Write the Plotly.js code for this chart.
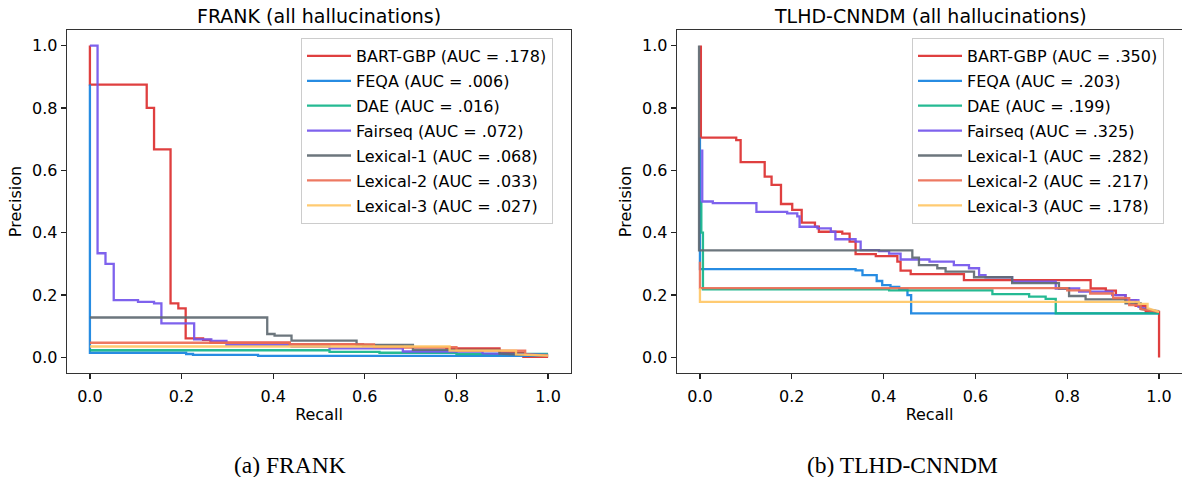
<!DOCTYPE html>
<html>
<head>
<meta charset="utf-8">
<script src="https://cdn.plot.ly/plotly-3.0.1.min.js"></script>
<style>html,body{margin:0;padding:0;background:#fff;}#chart{width:1182px;height:477px;}</style>
</head>
<body>
<div id="chart"></div>
<script>
// ---------- series names and legend AUCs ----------
const SERIES = ["BART-GBP", "FEQA", "DAE", "Fairseq", "Lexical-1", "Lexical-2", "Lexical-3"];
const FRANK_AUC = [".178", ".006", ".016", ".072", ".068", ".033", ".027"];
const TLHD_AUC = [".350", ".203", ".199", ".325", ".282", ".217", ".178"];
const TICKS = [0, 0.2, 0.4, 0.6, 0.8, 1.0];
const TICK_TEXT = ["0.0", "0.2", "0.4", "0.6", "0.8", "1.0"];

// ---------- FRANK (all hallucinations) : recall / precision ----------
const frankBartRecall = [0, 0, 0.124, 0.124, 0.140, 0.140, 0.176, 0.176, 0.193, 0.193, 0.209, 0.209, 0.247, 0.247, 0.263, 0.263, 0.436, 0.436, 0.596, 0.596, 0.683, 0.683, 0.778, 0.778, 0.894, 0.894, 0.946, 0.946, 1.0];
const frankBartPrecision = [1.0, 0.875, 0.875, 0.80, 0.80, 0.667, 0.667, 0.173, 0.173, 0.157, 0.157, 0.061, 0.061, 0.056, 0.056, 0.047, 0.047, 0.042, 0.042, 0.037, 0.037, 0.032, 0.032, 0.029, 0.029, 0.015, 0.015, 0.002, 0.002];

const frankFeqaRecall = [0, 0, 0.21, 0.21, 0.225, 0.225, 0.367, 0.367, 1.0];
const frankFeqaPrecision = [0.875, 0.015, 0.015, 0.011, 0.011, 0.008, 0.008, 0.005, 0.005];

const frankDaeRecall = [0, 0.523, 0.523, 0.632, 0.632, 0.80, 0.80, 1.0];
const frankDaePrecision = [0.023, 0.023, 0.018, 0.018, 0.015, 0.015, 0.011, 0.011];

const frankFairseqRecall = [0, 0.0167, 0.0167, 0.034, 0.034, 0.052, 0.052, 0.105, 0.105, 0.14, 0.14, 0.156, 0.156, 0.2275, 0.2275, 0.265, 0.265, 0.298, 0.298, 0.44, 0.44, 0.523, 0.523, 0.683, 0.683, 0.857, 0.857, 1.0];
const frankFairseqPrecision = [1.0, 1.0, 0.334, 0.334, 0.30, 0.30, 0.184, 0.184, 0.178, 0.178, 0.173, 0.173, 0.109, 0.109, 0.058, 0.058, 0.053, 0.053, 0.040, 0.040, 0.035, 0.035, 0.029, 0.029, 0.019, 0.019, 0.013, 0.008];

const frankLex1Recall = [0, 0.387, 0.387, 0.403, 0.403, 0.44, 0.44, 0.582, 0.582, 0.705, 0.705, 0.894, 0.894, 1.0];
const frankLex1Precision = [0.128, 0.128, 0.075, 0.075, 0.070, 0.070, 0.054, 0.054, 0.040, 0.040, 0.024, 0.024, 0.012, 0.005];

const frankLex2Recall = [0, 0.436, 0.436, 0.62, 0.62, 0.80, 0.80, 0.95, 0.95, 1.0];
const frankLex2Precision = [0.047, 0.047, 0.042, 0.042, 0.033, 0.033, 0.022, 0.022, 0.010, 0.006];

const frankLex3Recall = [0, 0.785, 0.785, 0.93, 0.93, 1.0];
const frankLex3Precision = [0.035, 0.035, 0.022, 0.022, 0.010, 0.006];

// ---------- TLHD-CNNDM (all hallucinations) : recall / precision ----------
const tlhdBartRecall = [0.002, 0.002, 0.079, 0.079, 0.0886, 0.0886, 0.141, 0.141, 0.156, 0.156, 0.1765, 0.1765, 0.201, 0.201, 0.2216, 0.2216, 0.2505, 0.2505, 0.259, 0.259, 0.31, 0.31, 0.326, 0.326, 0.339, 0.339, 0.383, 0.383, 0.43, 0.43, 0.437, 0.437, 0.459, 0.459, 0.575, 0.575, 0.851, 0.851, 0.884, 0.884, 0.906, 0.906, 0.927, 0.927, 0.949, 0.949, 0.971, 0.971, 1.0, 1.0];
const tlhdBartPrecision = [1.0, 0.705, 0.705, 0.697, 0.697, 0.626, 0.626, 0.58, 0.58, 0.553, 0.553, 0.492, 0.492, 0.473, 0.473, 0.432, 0.432, 0.419, 0.419, 0.403, 0.403, 0.397, 0.397, 0.371, 0.371, 0.331, 0.331, 0.325, 0.325, 0.307, 0.307, 0.278, 0.278, 0.267, 0.267, 0.248, 0.248, 0.221, 0.221, 0.214, 0.214, 0.200, 0.200, 0.184, 0.184, 0.165, 0.165, 0.146, 0.146, 0.0];

const tlhdFeqaRecall = [0, 0, 0.339, 0.339, 0.354, 0.354, 0.385, 0.385, 0.397, 0.397, 0.415, 0.415, 0.434, 0.434, 0.452, 0.452, 0.460, 0.460, 1.0];
const tlhdFeqaPrecision = [0.705, 0.283, 0.283, 0.279, 0.279, 0.264, 0.264, 0.245, 0.245, 0.232, 0.232, 0.226, 0.226, 0.218, 0.218, 0.200, 0.200, 0.141, 0.141];

const tlhdDaeRecall = [0.003, 0.003, 0.0065, 0.0065, 0.412, 0.412, 0.637, 0.637, 0.717, 0.717, 0.753, 0.753, 0.775, 0.775, 1.0];
const tlhdDaePrecision = [0.50, 0.40, 0.40, 0.218, 0.218, 0.215, 0.215, 0.203, 0.203, 0.195, 0.195, 0.188, 0.188, 0.141, 0.141];

const tlhdFairseqRecall = [0.005, 0.005, 0.028, 0.028, 0.123, 0.123, 0.19, 0.19, 0.212, 0.212, 0.217, 0.217, 0.256, 0.256, 0.285, 0.285, 0.295, 0.295, 0.339, 0.339, 0.35, 0.35, 0.39, 0.39, 0.412, 0.412, 0.437, 0.437, 0.50, 0.50, 0.553, 0.553, 0.586, 0.586, 0.608, 0.608, 0.622, 0.622, 0.68, 0.68, 0.775, 0.775, 0.826, 0.826, 0.898, 0.898, 0.927, 0.927, 0.955, 0.955, 1.0];
const tlhdFairseqPrecision = [0.667, 0.50, 0.50, 0.495, 0.495, 0.467, 0.467, 0.462, 0.462, 0.452, 0.452, 0.419, 0.419, 0.414, 0.414, 0.403, 0.403, 0.379, 0.379, 0.371, 0.371, 0.344, 0.344, 0.341, 0.341, 0.333, 0.333, 0.314, 0.314, 0.307, 0.307, 0.296, 0.296, 0.286, 0.286, 0.264, 0.264, 0.257, 0.257, 0.243, 0.243, 0.221, 0.221, 0.211, 0.211, 0.200, 0.200, 0.184, 0.184, 0.162, 0.146];

const tlhdLex1Recall = [-0.002, -0.002, 0.4626, 0.4626, 0.477, 0.477, 0.517, 0.517, 0.535, 0.535, 0.597, 0.597, 0.68, 0.68, 0.782, 0.782, 0.804, 0.804, 0.84, 0.84, 0.927, 0.927, 0.96, 0.96, 1.0];
const tlhdLex1Precision = [1.0, 0.343, 0.343, 0.320, 0.320, 0.296, 0.296, 0.286, 0.286, 0.275, 0.275, 0.257, 0.257, 0.238, 0.238, 0.221, 0.221, 0.197, 0.197, 0.186, 0.186, 0.173, 0.173, 0.155, 0.148];

const tlhdLex2Recall = [0, 0, 0.80, 0.80, 0.85, 0.85, 0.90, 0.90, 0.935, 0.935, 0.96, 0.96, 1.0];
const tlhdLex2Precision = [0.307, 0.222, 0.222, 0.215, 0.215, 0.205, 0.205, 0.19, 0.19, 0.168, 0.168, 0.155, 0.146];

const tlhdLex3Recall = [0, 0, 0.956, 0.956, 0.975, 0.975, 1.0];
const tlhdLex3Precision = [0.222, 0.178, 0.178, 0.172, 0.172, 0.158, 0.146];

// ---------- styling ----------
const COLORS = ["#dc2f2f", "#1582e0", "#12b48a", "#7355ec", "#5f6a72", "#ec6e55", "#ffc766"];
const FONT = "DejaVu Sans, Liberation Sans, sans-serif";

const frankData = [
  [frankBartRecall, frankBartPrecision], [frankFeqaRecall, frankFeqaPrecision],
  [frankDaeRecall, frankDaePrecision], [frankFairseqRecall, frankFairseqPrecision],
  [frankLex1Recall, frankLex1Precision], [frankLex2Recall, frankLex2Precision],
  [frankLex3Recall, frankLex3Precision]
];
const tlhdData = [
  [tlhdBartRecall, tlhdBartPrecision], [tlhdFeqaRecall, tlhdFeqaPrecision],
  [tlhdDaeRecall, tlhdDaePrecision], [tlhdFairseqRecall, tlhdFairseqPrecision],
  [tlhdLex1Recall, tlhdLex1Precision], [tlhdLex2Recall, tlhdLex2Precision],
  [tlhdLex3Recall, tlhdLex3Precision]
];

const traces = [];
frankData.forEach((d, i) => traces.push({
  type: "scatter", mode: "lines", x: d[0], y: d[1],
  name: SERIES[i] + " (AUC = " + FRANK_AUC[i] + ")",
  line: {color: COLORS[i], width: 2.3}, opacity: 0.92,
  xaxis: "x", yaxis: "y", legend: "legend", legendgroup: "a" + i, hoverinfo: "skip"
}));
tlhdData.forEach((d, i) => traces.push({
  type: "scatter", mode: "lines", x: d[0], y: d[1],
  name: SERIES[i] + " (AUC = " + TLHD_AUC[i] + ")",
  line: {color: COLORS[i], width: 2.3}, opacity: 0.92,
  xaxis: "x2", yaxis: "y2", legend: "legend2", legendgroup: "b" + i, hoverinfo: "skip"
}));

const W = 1182, H = 477;
const axisCommon = {
  range: [-0.05, 1.05], tickvals: TICKS, ticktext: TICK_TEXT,
  ticks: "outside", ticklen: 5, tickwidth: 1.3, tickcolor: "#222",
  showline: true, linecolor: "#333", linewidth: 1.3,
  showgrid: false, zeroline: false,
  tickfont: {family: FONT, size: 16, color: "#000"}
};
const legendCommon = {
  font: {family: FONT, size: 16, color: "#000"},
  bgcolor: "rgba(255,255,255,0.85)", bordercolor: "#cccccc", borderwidth: 1,
  xanchor: "left", yanchor: "top", itemwidth: 44, tracegroupgap: 1.1
};

const layout = {
  width: W, height: H,
  margin: {l: 0, r: 0, t: 0, b: 0},
  paper_bgcolor: "#fff", plot_bgcolor: "#fff",
  showlegend: true,
  xaxis: Object.assign({}, axisCommon, {domain: [67 / W, 571 / W], anchor: "y", mirror: true,
    ticklabelstandoff: 3,
    title: {text: "Recall", font: {family: FONT, size: 16, color: "#000"}, standoff: 4}}),
  yaxis: Object.assign({}, axisCommon, {domain: [104 / H, 447 / H], anchor: "x", mirror: true,
    title: {text: "Precision", font: {family: FONT, size: 16, color: "#000"}, standoff: 6}}),
  xaxis2: Object.assign({}, axisCommon, {domain: [677 / W, 1.0], anchor: "y2", mirror: true,
    ticklabelstandoff: 3,
    title: {text: "Recall", font: {family: FONT, size: 16, color: "#000"}, standoff: 4}}),
  yaxis2: Object.assign({}, axisCommon, {domain: [104 / H, 447 / H], anchor: "x2", mirror: false,
    title: {text: "Precision", font: {family: FONT, size: 16, color: "#000"}, standoff: 6}}),
  legend: Object.assign({}, legendCommon, {x: 301 / W, y: (H - 38) / H}),
  legend2: Object.assign({}, legendCommon, {x: 912 / W, y: (H - 38) / H}),
  annotations: [
    {text: "FRANK (all hallucinations)", x: 319 / W, y: (H - 16.5) / H, xref: "paper", yref: "paper",
     xanchor: "center", yanchor: "middle", showarrow: false, font: {family: FONT, size: 19, color: "#000"}},
    {text: "TLHD-CNNDM (all hallucinations)", x: 930 / W, y: (H - 16.5) / H, xref: "paper", yref: "paper",
     xanchor: "center", yanchor: "middle", showarrow: false, font: {family: FONT, size: 19, color: "#000"}},
    {text: "(a) FRANK", x: 290 / W, y: (H - 465) / H, xref: "paper", yref: "paper",
     xanchor: "center", yanchor: "middle", showarrow: false, font: {family: "Liberation Serif, serif", size: 23.5, color: "#000"}},
    {text: "(b) TLHD-CNNDM", x: 902 / W, y: (H - 465) / H, xref: "paper", yref: "paper",
     xanchor: "center", yanchor: "middle", showarrow: false, font: {family: "Liberation Serif, serif", size: 23.5, color: "#000"}}
  ]
};

Plotly.newPlot("chart", traces, layout, {staticPlot: true, displayModeBar: false});
</script>
</body>
</html>
